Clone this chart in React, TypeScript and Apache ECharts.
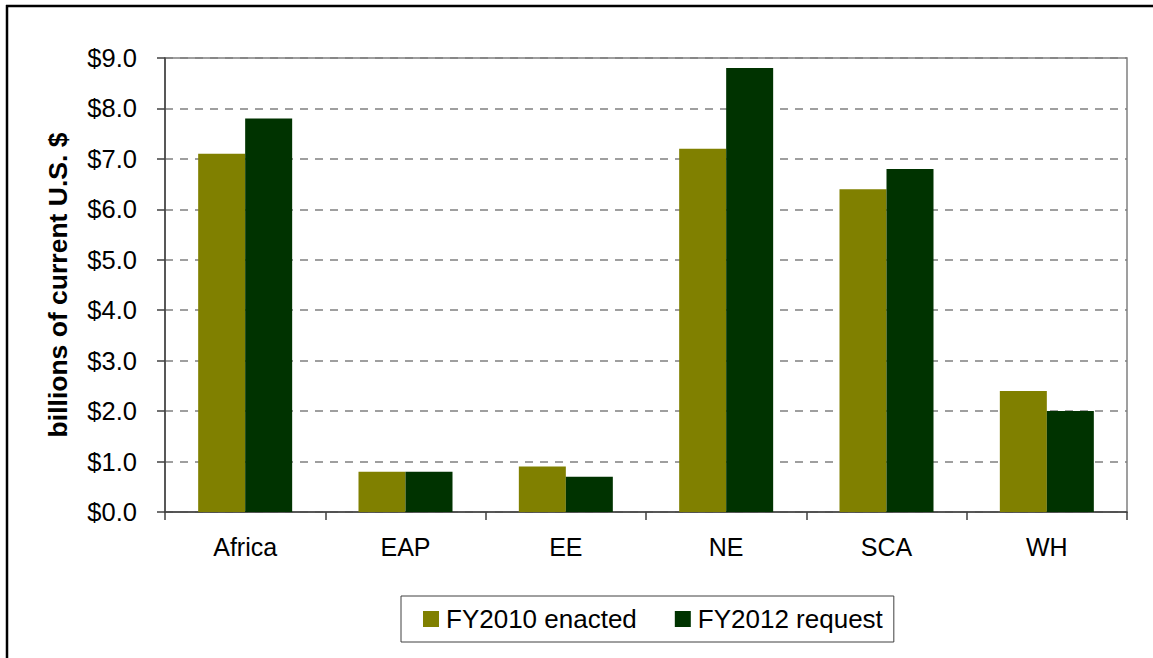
import React, { useEffect, useRef } from "react";
import * as echarts from "echarts";

const categories = ["Africa", "EAP", "EE", "NE", "SCA", "WH"];
const fy2010Enacted = [7.1, 0.8, 0.9, 7.2, 6.4, 2.4];
const fy2012Request = [7.8, 0.8, 0.7, 8.8, 6.8, 2.0];
const seriesNames = ["FY2010 enacted", "FY2012 request"];
const yAxisTitle = "billions of current U.S. $";

const FONT = "'Liberation Sans', Arial, sans-serif";

export default function App() {
  const ref = useRef<HTMLDivElement>(null);
  useEffect(() => {
    document.body.style.margin = "0";
    const chart = echarts.init(ref.current!, null, { renderer: "svg" });
    chart.setOption({
      animation: false,
      backgroundColor: "#ffffff",
      textStyle: { fontFamily: FONT, color: "#000" },
      grid: {
        left: 165,
        right: 26,
        top: 58,
        bottom: 146,
        show: true,
        borderColor: "#808080",
        borderWidth: 1.5,
        backgroundColor: "transparent",
      },
      legend: {
        left: 401,
        top: 596,
        orient: "horizontal",
        data: seriesNames,
        itemWidth: 16,
        itemHeight: 16,
        itemGap: 38,
        icon: "rect",
        padding: [10, 11, 10, 22],
        borderColor: "#404040",
        borderWidth: 1,
        textStyle: { fontFamily: FONT, fontSize: 26, color: "#000", padding: [0, 0, 0, 2] },
      },
      xAxis: {
        type: "category",
        data: categories,
        axisLine: { show: true, lineStyle: { color: "#404040", width: 1.5 } },
        axisTick: { show: true, length: 8, lineStyle: { color: "#404040", width: 1.5 } },
        axisLabel: { margin: 22, fontSize: 25, fontFamily: FONT, color: "#000" },
        splitLine: { show: false },
      },
      yAxis: {
        type: "value",
        min: 0,
        max: 9,
        interval: 1,
        name: yAxisTitle,
        nameLocation: "middle",
        nameGap: 94,
        nameTextStyle: { fontSize: 26.5, fontWeight: "bold", fontFamily: FONT, color: "#000" },
        axisLine: { show: true, lineStyle: { color: "#404040", width: 1.5 } },
        axisTick: { show: true, length: 8, lineStyle: { color: "#404040", width: 1.5 } },
        axisLabel: {
          margin: 28,
          fontSize: 25.5,
          fontFamily: FONT,
          color: "#000",
          formatter: (v: number) => "$" + v.toFixed(1),
        },
        splitLine: { show: true, lineStyle: { color: "#808080", width: 1.5, type: [8, 7] } },
      },
      series: [
        {
          name: seriesNames[0],
          type: "bar",
          data: fy2010Enacted,
          barWidth: 47,
          barGap: "0%",
          itemStyle: { color: "#808000" },
        },
        {
          name: seriesNames[1],
          type: "bar",
          data: fy2012Request,
          barWidth: 47,
          barGap: "0%",
          itemStyle: { color: "#003300" },
        },
      ],
      graphic: [
        { type: "line", shape: { x1: 6, y1: 6, x2: 1153, y2: 6 }, style: { stroke: "#000", lineWidth: 2.5 } },
        { type: "line", shape: { x1: 7, y1: 5, x2: 7, y2: 658 }, style: { stroke: "#000", lineWidth: 2.5 } },
      ],
    });
    return () => chart.dispose();
  }, []);
  return <div ref={ref} style={{ width: 1153, height: 658 }} />;
}
